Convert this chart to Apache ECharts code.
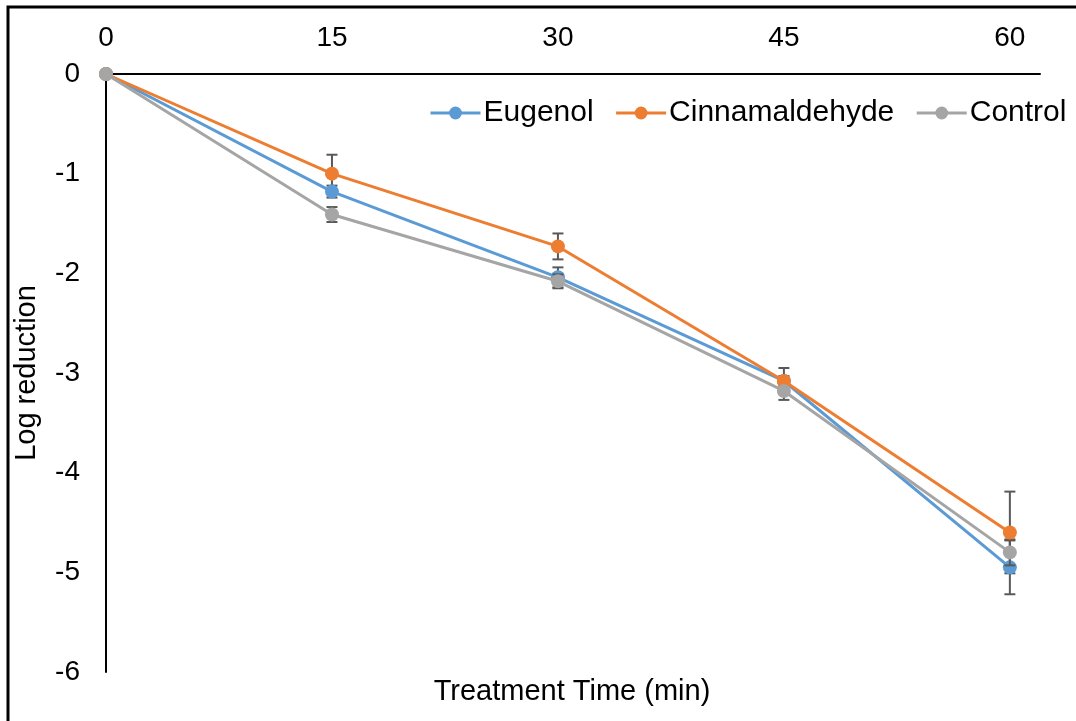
<!DOCTYPE html>
<html>
<head>
<meta charset="utf-8">
<script src="https://cdn.jsdelivr.net/npm/echarts@6/dist/echarts.min.js"></script>
<style>
html,body{margin:0;padding:0;background:#fff;}
#chart{width:1076px;height:721px;}
</style>
</head>
<body>
<div id="chart"></div>
<script>
const times = [0, 15, 30, 45, 60];
const xTickLabels = ['0', '15', '30', '45', '60'];
const yTickLabels = ['0', '-1', '-2', '-3', '-4', '-5', '-6'];
const seriesNames = ['Eugenol', 'Cinnamaldehyde', 'Control'];
const eugenol = [0, -1.18, -2.04, -3.08, -4.95];
const cinnamaldehyde = [0, -1.00, -1.73, -3.08, -4.60];
const control = [0, -1.41, -2.08, -3.18, -4.80];
const eugenolErr = [0, 0.06, 0.10, 0.05, 0.27];
const cinnamaldehydeErr = [0, 0.19, 0.13, 0.13, 0.41];
const controlErr = [0, 0.075, 0.07, 0.09, 0.13];
const colors = ['#5B9BD5', '#ED7D31', '#A5A5A5'];

const values = [eugenol, cinnamaldehyde, control];
const errs = [eugenolErr, cinnamaldehydeErr, controlErr];
const FONT = '"Liberation Sans", Arial, sans-serif';

const chart = echarts.init(document.getElementById('chart'));

const lineSeries = seriesNames.map((name, i) => ({
  name: name,
  type: 'line',
  data: times.map((t, k) => [t, values[i][k]]),
  symbol: 'circle',
  symbolSize: 14,
  itemStyle: { color: colors[i] },
  lineStyle: { color: colors[i], width: 3 },
  z: 10 + i,
  animation: false
}));

const errSeries = seriesNames.map((name, i) => ({
  type: 'custom',
  name: name + ' err',
  data: times.map((t, k) => [t, values[i][k], errs[i][k]]),
  z: 9 + i,
  animation: false,
  renderItem: function (params, api) {
    const x = api.value(0), y = api.value(1), e = api.value(2);
    if (!e) return null;
    const top = api.coord([x, y + e]);
    const bot = api.coord([x, y - e]);
    const hw = 5.5;
    const st = { stroke: '#595959', lineWidth: 2 };
    return {
      type: 'group',
      children: [
        { type: 'line', shape: { x1: top[0], y1: top[1], x2: bot[0], y2: bot[1] }, style: st },
        { type: 'line', shape: { x1: top[0] - hw, y1: top[1], x2: top[0] + hw, y2: top[1] }, style: st },
        { type: 'line', shape: { x1: bot[0] - hw, y1: bot[1], x2: bot[0] + hw, y2: bot[1] }, style: st }
      ]
    };
  }
}));

const option = {
  backgroundColor: '#fff',
  animation: false,
  textStyle: { fontFamily: FONT },
  grid: { left: 106, right: 36, top: 74, bottom: 49, containLabel: false },
  legend: {
    data: seriesNames,
    left: 424,
    top: 93,
    itemGap: 21,
    itemWidth: 50,
    itemHeight: 16,
    lineStyle: { width: 3 },
    textStyle: { fontSize: 30, color: '#000', fontFamily: FONT, padding: [0, 0, 0, -2] }
  },
  xAxis: {
    type: 'value',
    position: 'top',
    min: 0,
    max: 62,
    interval: 15,
    axisLine: { show: true, onZero: false, lineStyle: { color: '#000', width: 2 } },
    axisTick: { show: false },
    splitLine: { show: false },
    axisLabel: {
      fontSize: 28, color: '#000', fontFamily: FONT, margin: 22,
      showMaxLabel: false,
      formatter: function (v) { const k = times.indexOf(v); return k >= 0 ? xTickLabels[k] : ''; }
    }
  },
  yAxis: {
    type: 'value',
    min: -6,
    max: 0,
    interval: 1,
    name: 'Log reduction',
    nameLocation: 'middle',
    nameGap: 65,
    nameTextStyle: { fontSize: 29, color: '#000', fontFamily: FONT },
    axisLine: { show: true, onZero: false, lineStyle: { color: '#000', width: 2 } },
    axisTick: { show: false },
    splitLine: { show: false },
    axisLabel: {
      fontSize: 28, color: '#000', fontFamily: FONT, margin: 26,
      formatter: function (v) { return yTickLabels[Math.round(-v)]; }
    }
  },
  graphic: [
    { type: 'rect', shape: { x: 8, y: 7, width: 1080, height: 730 }, style: { fill: null, stroke: '#000', lineWidth: 3 }, z: 100 },
    { type: 'text', x: 572, y: 692, style: { text: 'Treatment Time (min)', font: '29px ' + FONT, fill: '#000', textAlign: 'center', textVerticalAlign: 'middle' } }
  ],
  series: errSeries.concat(lineSeries)
};

chart.setOption(option);
</script>
</body>
</html>
